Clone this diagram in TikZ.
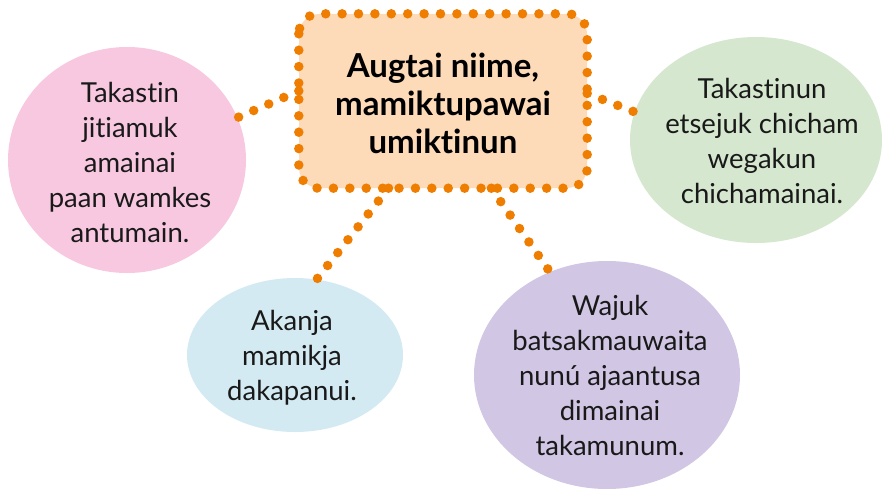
\documentclass[tikz,border=0pt]{standalone}
\usepackage{fontspec}
\setmainfont{Lato}[Ligatures=NoCommon]
\usetikzlibrary{shapes.geometric}
\definecolor{dotorange}{HTML}{EE7D00}
\definecolor{peach}{HTML}{FDDBB9}
\definecolor{pinkfill}{HTML}{F7C8E0}
\definecolor{greenfill}{HTML}{D5E7CE}
\definecolor{bluefill}{HTML}{D3EAF2}
\definecolor{purplefill}{HTML}{D1C6E4}
\tikzset{
  bubble/.style={ellipse, draw=none, inner sep=0pt},
  dotline/.style={draw=dotorange, line width=9.5pt, line cap=round, dash pattern=on 0pt off 16.4pt},
  bubbletext/.style={align=center, font=\fontsize{27.5}{35}\selectfont, text=black!90},
}
\begin{document}
\begin{tikzpicture}[x=1pt,y=-1pt]
\useasboundingbox (0,0) rectangle (882,488);
\node[bubble, fill=pinkfill, minimum width=238pt, minimum height=226pt] (pink) at (127,160) {};
\node[bubble, fill=greenfill, minimum width=252pt, minimum height=206pt] (green) at (756,140) {};
\node[bubble, fill=bluefill, minimum width=216pt, minimum height=154pt] (blue) at (295,355) {};
\node[bubble, fill=purplefill, minimum width=266pt, minimum height=228pt] (purple) at (607,375) {};
\node[rectangle, rounded corners=20pt, fill=peach, minimum width=288pt, minimum height=174pt] (box) at (443,101) {};
\draw[dotline] (box.176.8) -- (pink.21);
\draw[dotline] (box.3.6) -- (green.167);
\draw[dotline] (box.-122.2) -- (blue.74);
\draw[dotline] (box.-61.2) -- (purple.119);
\draw[dotline, rounded corners=20pt] (box.north west) rectangle (box.south east);
\node[align=center, font=\bfseries\fontsize{33}{38}\selectfont] (boxT) at (443,103) {Augtai niime,\\mamiktupawai\\umiktinun};
\node[bubbletext] (pinkT) at (130,162) {Takastin\\jitiamuk\\amainai\\paan wamkes\\antumain.};
\node[bubbletext] (greenT) at (762,141) {Takastinun\\etsejuk chicham\\wegakun\\chichamainai.};
\node[bubbletext] (blueT) at (292,358) {Akanja\\mamikja\\dakapanui.};
\node[bubbletext] (purpleT) at (610,375) {Wajuk\\batsakmauwaita\\nunú ajaantusa\\dimainai\\takamunum.};
\end{tikzpicture}
\end{document}
